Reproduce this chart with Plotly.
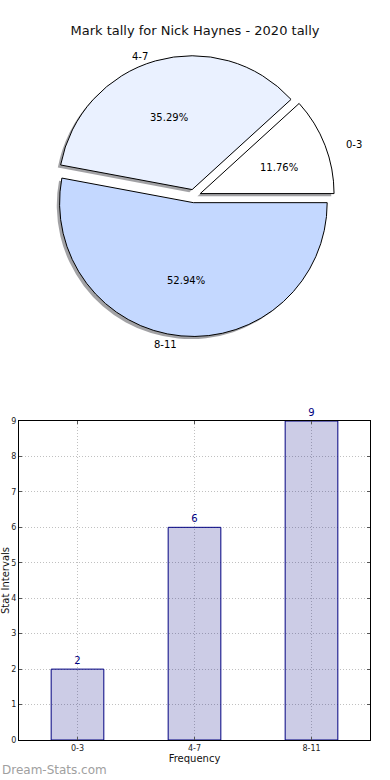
import math
import plotly.graph_objects as go

# ---- data ----
categories = ["0-3", "4-7", "8-11"]
counts = [2, 6, 9]
pie_colors = ["#ffffff", "#eaf1ff", "#c4d8ff"]
title_text = "Mark tally for Nick Haynes - 2020 tally"
y_ticks = list(range(0, 10))

W, H = 390, 780
FONT = "DejaVu Sans"

def px_x(p):
    return p / W

def px_y(p):
    return 1 - p / H

# pie placement (pixels in the screenshot)
cx, cy, half = 194, 196, 140.5
sx, sy = -2.8, 2.6  # shadow offset in pixels
explode = 0.05
# text layout radii (pixels) for labels / percentages
tcx, tcy, trx, try_ = 194, 198, 140, 128

# matplotlib-like start: first slice begins at 3 o'clock, counterclockwise
total = sum(counts)
rot = 90 - 360.0 * counts[0] / total

fig = go.Figure()

# shadow pie
fig.add_trace(go.Pie(
    labels=categories, values=counts, sort=False,
    direction="counterclockwise", rotation=rot,
    pull=[explode] * len(counts),
    marker=dict(colors=["rgba(70,70,76,0.5)"] * len(counts),
                line=dict(width=0)),
    textinfo="none",
    domain=dict(x=[px_x(cx - half + sx), px_x(cx + half + sx)],
                y=[px_y(cy + half + sy), px_y(cy - half + sy)]),
    hoverinfo="skip", showlegend=False,
))

# main pie
fig.add_trace(go.Pie(
    labels=categories, values=counts, sort=False,
    direction="counterclockwise", rotation=rot,
    pull=[explode] * len(counts),
    marker=dict(colors=pie_colors, line=dict(color="#000000", width=1)),
    textinfo="none",
    domain=dict(x=[px_x(cx - half), px_x(cx + half)],
                y=[px_y(cy + half), px_y(cy - half)]),
    showlegend=False,
))

# labels and percentages placed like matplotlib (label at 1.1 r, pct at 0.6 r)
annotations = []
start = 0.0
for lab, v in zip(categories, counts):
    span = 360.0 * v / total
    mid = math.radians(start + span / 2)
    start += span
    c, s = math.cos(mid), math.sin(mid)
    ex = tcx + explode * trx * c
    ey = tcy - explode * try_ * s
    annotations.append(dict(
        text=lab, x=px_x(ex + 1.1 * trx * c), y=px_y(ey - 1.1 * try_ * s),
        xref="paper", yref="paper", showarrow=False,
        xanchor="left" if c > 0 else "right", yanchor="middle",
        font=dict(family=FONT, size=10, color="#000000"),
    ))
    annotations.append(dict(
        text=f"{100.0 * v / total:.2f}%", x=px_x(ex + 0.6 * trx * c), y=px_y(ey - 0.6 * try_ * s),
        xref="paper", yref="paper", showarrow=False,
        xanchor="center", yanchor="middle",
        font=dict(family=FONT, size=10, color="#000000"),
    ))

# bar chart
fig.add_trace(go.Bar(
    x=categories, y=counts, width=0.45,
    marker=dict(color="rgba(0,0,128,0.2)", line=dict(color="#000080", width=1)),
    text=[str(v) for v in counts], textposition="outside",
    textfont=dict(family=FONT, size=10, color="#000080"),
    cliponaxis=False, showlegend=False,
    xaxis="x", yaxis="y",
))

grid_common = dict(showgrid=True, gridcolor="#c0c0c0", griddash="1px,2px", gridwidth=1)

annotations.append(dict(
    text="Dream-Stats.com", x=px_x(0), y=px_y(770), xref="paper", yref="paper",
    xanchor="left", yanchor="middle", showarrow=False,
    font=dict(family=FONT, size=12, color="#a0a0a0"),
))

fig.update_layout(
    width=W, height=H,
    margin=dict(l=0, r=0, t=0, b=0),
    paper_bgcolor="white", plot_bgcolor="white",
    font=dict(family=FONT, color="#222222"),
    title=dict(text=title_text, x=px_x(195), xanchor="center", y=px_y(30), yanchor="middle",
               font=dict(family=FONT, size=13, color="#111111")),
    showlegend=False,
    xaxis=dict(
        domain=[px_x(19), px_x(370)], anchor="y",
        range=[-0.5, 2.5], type="category",
        showline=True, linecolor="black", linewidth=1, mirror="allticks",
        ticks="inside", ticklen=3, tickcolor="#555555",
        tickfont=dict(family=FONT, size=8, color="#222222"),
        title=dict(text="Frequency", font=dict(family=FONT, size=10, color="#111111"), standoff=2),
        automargin=False, zeroline=False, **grid_common,
    ),
    yaxis=dict(
        domain=[px_y(740), px_y(421)], anchor="x",
        range=[0, 9], tickvals=y_ticks,
        showline=True, linecolor="black", linewidth=1, mirror="allticks",
        ticks="inside", ticklen=3, tickcolor="#555555",
        tickfont=dict(family=FONT, size=8, color="#222222"),
        title=dict(text="Stat Intervals", font=dict(family=FONT, size=10, color="#111111"), standoff=4),
        automargin=False, zeroline=False, **grid_common,
    ),
    annotations=annotations,
)

fig.write_html(
    "out.html",
    config={"displayModeBar": False},
    post_script="document.body.style.margin='0';document.body.style.overflow='hidden';",
)
